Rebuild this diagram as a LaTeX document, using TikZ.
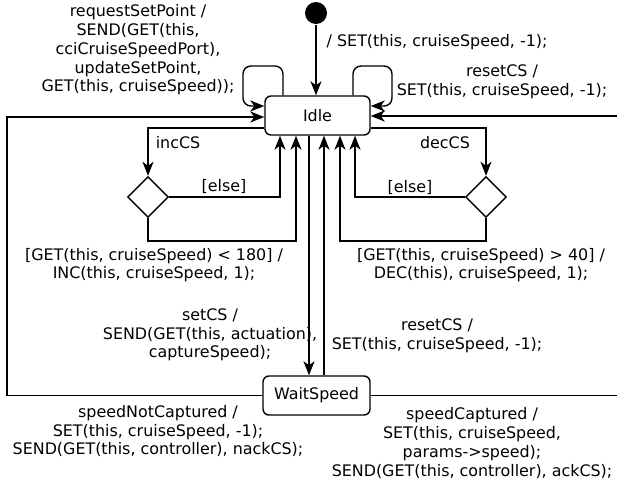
\documentclass[tikz,border=0pt]{standalone}
\usepackage{fontspec}
\setmainfont{DejaVu Sans}
\usetikzlibrary{arrows.meta,shapes.geometric}
\tikzset{
  state/.style={draw,rounded corners=6pt,inner sep=0pt,minimum height=39pt},
  choice/.style={draw,diamond,inner sep=0pt,minimum width=41pt,minimum height=41pt},
  trans/.style={-{Stealth[length=14pt,width=11pt,inset=4pt]}},
  lbl/.style={align=center,inner sep=0pt}
}
\begin{document}
\begin{tikzpicture}[x=1pt,y=-1pt,line width=1.4pt,font=\fontsize{15.9}{18.7}\selectfont]
  \clip (0,0) rectangle (617,482);
  \node[circle,fill,minimum size=22pt,inner sep=0pt] (init) at (316,13) {};
  \node[state,minimum width=105pt] (idle) at (317.5,115.5) {Idle};
  \node[state,minimum width=107pt] (wait) at (316.5,395.5) {WaitSpeed};
  \node[choice] (inc) at (148,197) {};
  \node[choice] (dec) at (486,197) {};
  \draw[trans] (init) -- (idle.north -| init) node[lbl,anchor=west] at (326,42) {/ SET(this, cruiseSpeed, -1);};
  \draw[trans,rounded corners=8pt] (idle.north -| 283,0) |- (243,66) |- (idle.west |- 0,106)
    node[lbl] at (138,50) {requestSetPoint /\\SEND(GET(this,\\cciCruiseSpeedPort),\\updateSetPoint,\\GET(this, cruiseSpeed));};
  \draw[trans,rounded corners=8pt] (idle.north -| 353,0) |- (392,66) |- (idle.east |- 0,106)
    node[lbl] at (502,82) {resetCS /\\SET(this, cruiseSpeed, -1);};
  \draw[trans] (wait.west) -| (7,117) -- (idle.west |- 0,117)
    node[lbl] at (158,431) {speedNotCaptured /\\SET(this, cruiseSpeed, -1);\\SEND(GET(this, controller), nackCS);};
  \draw[trans] (wait.east) -| (640,116) -- (idle.east |- 0,116)
    node[lbl] at (472,443) {speedCaptured /\\SET(this, cruiseSpeed,\\params->speed);\\SEND(GET(this, controller), ackCS);};
  \draw[trans] (idle.south -| 309,0) -- (wait.north -| 309,0)
    node[lbl] at (210,335) {setCS /\\SEND(GET(this, actuation),\\captureSpeed);};
  \draw[trans] (wait.north -| 324,0) -- (idle.south -| 324,0)
    node[lbl] at (437,336) {resetCS /\\SET(this, cruiseSpeed, -1);};
  \draw[trans] (idle.west |- 0,128) -| (inc.north) node[lbl] at (178,143) {incCS};
  \draw[trans] (inc.east) -| (idle.south -| 280,0) node[lbl] at (224,187) {[else]};
  \draw[trans] (inc.south) |- (296,241) -- (idle.south -| 296,0)
    node[lbl] at (154,265) {[GET(this, cruiseSpeed) < 180] /\\INC(this, cruiseSpeed, 1);};
  \draw[trans] (idle.east |- 0,128) -| (dec.north) node[lbl] at (445,143) {decCS};
  \draw[trans] (dec.west) -| (idle.south -| 355,0) node[lbl] at (410,188) {[else]};
  \draw[trans] (dec.south) |- (340,241) -- (idle.south -| 340,0)
    node[lbl] at (481,265) {[GET(this, cruiseSpeed) > 40] /\\DEC(this), cruiseSpeed, 1);};
\end{tikzpicture}
\end{document}
